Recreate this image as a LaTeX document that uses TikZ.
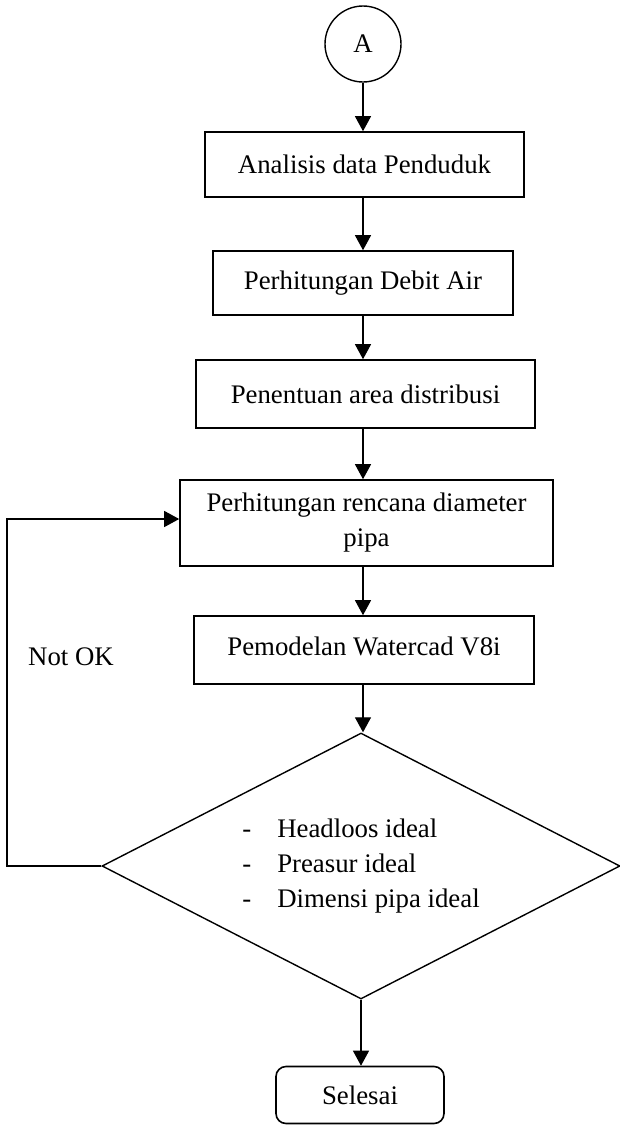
\documentclass[tikz,border=0pt]{standalone}
\usepackage{fontspec}
\setmainfont{Liberation Serif}
\usetikzlibrary{arrows.meta,shapes.geometric}
\begin{document}
\begin{tikzpicture}[x=1pt,y=-1pt,
  txt/.style={font=\fontsize{26.8}{35}\selectfont},
  procbox/.style={txt,draw,line width=1.6pt,inner sep=0pt,align=center},
  conn/.style={line width=1.2pt,-{Triangle[width=16pt,length=15pt]}},
  ]
\useasboundingbox (0,0) rectangle (619,1128);
\node[txt,draw,circle,line width=1.4pt,minimum size=76pt,inner sep=0pt] (A) at (363,44) {A};
\node[procbox,minimum width=319pt,minimum height=65pt] (b1) at (364.5,164.5) {Analisis data Penduduk};
\node[procbox,minimum width=300pt,minimum height=64pt] (b2) at (363,283) {Perhitungan Debit Air};
\node[procbox,minimum width=339pt,minimum height=68pt] (b3) at (365.5,394) {Penentuan area distribusi};
\node[procbox,minimum width=373pt,minimum height=86pt] (b4) at (366.5,523) {Perhitungan rencana diameter\\pipa};
\node[procbox,minimum width=340pt,minimum height=68pt] (b5) at (364,650) {\raisebox{7pt}{Pemodelan Watercad V8i}};
\node[txt,draw,diamond,shape aspect=1.947,line width=1.4pt,inner sep=0pt,minimum width=518pt,minimum height=266pt,align=left] (D) at (361,866)
  {\makebox[35pt][l]{-}Headloos ideal\\\makebox[35pt][l]{-}Preasur ideal\\\makebox[35pt][l]{-}Dimensi pipa ideal};
\node[procbox,rounded corners=10pt,minimum width=168pt,minimum height=57pt] (S) at (360,1095) {Selesai};
\node[txt] (nok) at (71,657) {Not OK};
\coordinate (fl) at (7,0);
\draw[conn] (A.south) -- (A.south |- b1.north);
\draw[conn] (b1.south -| A.south) -- (A.south |- b2.north);
\draw[conn] (b2.south -| A.south) -- (A.south |- b3.north);
\draw[conn] (b3.south -| A.south) -- (A.south |- b4.north);
\draw[conn] (b4.south -| A.south) -- (A.south |- b5.north);
\draw[conn] (b5.south -| A.south) -- (A.south |- D.north);
\draw[conn] (D.south) -- (D.south |- S.north);
\draw[conn] (D.west) -- (D.west -| fl) |- ([yshift=4pt]b4.west);
\end{tikzpicture}
\end{document}
